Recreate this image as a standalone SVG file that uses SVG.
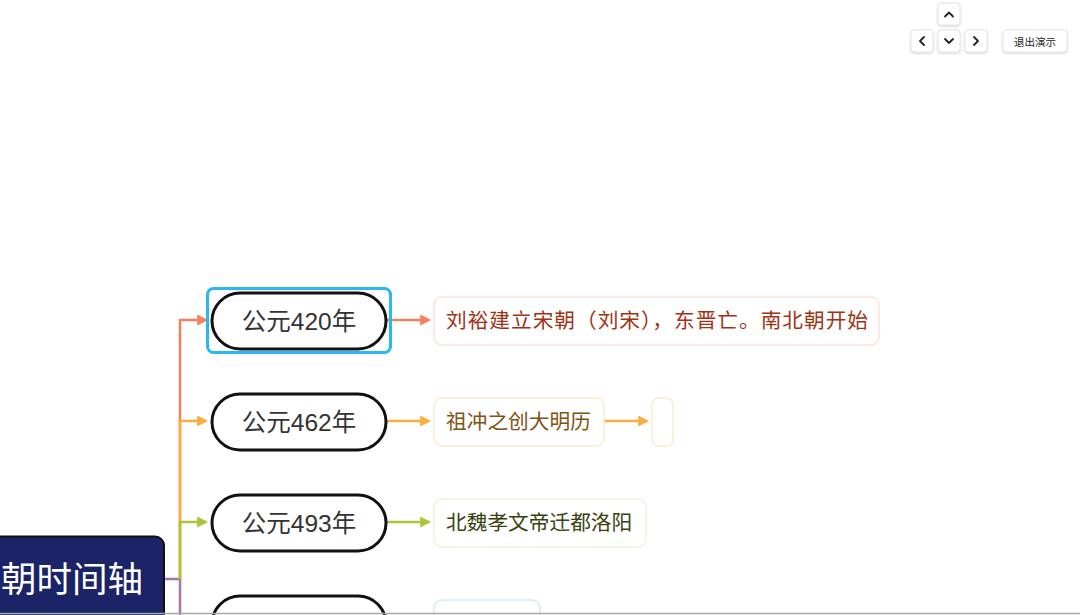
<svg xmlns="http://www.w3.org/2000/svg" width="1080" height="615" viewBox="0 0 1080 615">
<defs>
<style>
.cjk{font-family:"Noto Sans CJK SC","Noto Sans",sans-serif;}
.year{fill:#fff;stroke:#111;stroke-width:3;}
.ytxt{font-family:"Liberation Sans","Noto Sans CJK SC",sans-serif;font-size:24.5px;fill:#333;text-anchor:middle;}
.dtxt{font-size:20.7px;}
.btn{fill:#fff;stroke:#e4e4e4;stroke-width:1;}
.chev{fill:none;stroke:#222;stroke-width:1.8;stroke-linecap:round;stroke-linejoin:round;}
.conn{fill:none;stroke-width:2.5;}
</style>
<marker id="aC" viewBox="0 0 10 10" refX="8" refY="5" markerWidth="4.4" markerHeight="4.4" orient="auto"><path d="M0,0 L10,5 L0,10 z" fill="#f47f5a"/></marker>
<marker id="aO" viewBox="0 0 10 10" refX="8" refY="5" markerWidth="4.4" markerHeight="4.4" orient="auto"><path d="M0,0 L10,5 L0,10 z" fill="#fbad3d"/></marker>
<marker id="aG" viewBox="0 0 10 10" refX="8" refY="5" markerWidth="4.4" markerHeight="4.4" orient="auto"><path d="M0,0 L10,5 L0,10 z" fill="#a9c63b"/></marker>
<filter id="sh" x="-30%" y="-30%" width="160%" height="160%"><feDropShadow dx="0" dy="1" stdDeviation="1.2" flood-color="#000" flood-opacity="0.18"/></filter>
</defs>
<rect width="1080" height="615" fill="#fff"/>

<g id="connectors">
<path class="conn" stroke="#a676a9" d="M164,579 H180 V615"/>
<path class="conn" stroke="#f47f5a" d="M180,579 V320 H206" marker-end="url(#aC)"/>
<path class="conn" stroke="#fbad3d" d="M180,579 V421 H206" marker-end="url(#aO)"/>
<path class="conn" stroke="#a9c63b" d="M180,579 V522 H206" marker-end="url(#aG)"/>
<path class="conn" stroke="#f47f5a" d="M386,320 H429" marker-end="url(#aC)"/>
<path class="conn" stroke="#fbad3d" d="M386,421 H429" marker-end="url(#aO)"/>
<path class="conn" stroke="#fbad3d" d="M604,421 H647" marker-end="url(#aO)"/>
<path class="conn" stroke="#a9c63b" d="M386,522 H429" marker-end="url(#aG)"/>
</g>

<g id="root">
<rect x="-20" y="536.5" width="184" height="100" rx="9" fill="#1b2466" stroke="#111" stroke-width="2"/>
<text class="cjk" x="1" y="592" font-size="35.5px" fill="#fff">朝时间轴</text>
</g>

<g id="y420">
<rect x="207.5" y="288.5" width="183" height="64" rx="6" fill="none" stroke="#2bb8f2" stroke-width="3"/>
<rect class="year" x="212" y="293" width="174" height="56" rx="28"/>
<text class="ytxt" x="299" y="329.5">公元420年</text>
</g>
<g id="d420">
<rect x="434" y="297" width="445" height="48" rx="8" fill="#fff" stroke="#fde2d5" stroke-width="1.5"/>
<text class="cjk dtxt" x="446" y="328" fill="#9e3416" textLength="422" lengthAdjust="spacing">刘裕建立宋朝（刘宋），东晋亡。南北朝开始</text>
</g>

<g id="y462">
<rect class="year" x="212" y="394" width="174" height="56" rx="28"/>
<text class="ytxt" x="299" y="430.5">公元462年</text>
</g>
<g id="d462">
<rect x="434" y="398" width="170" height="48" rx="8" fill="#fff" stroke="#fdebd0" stroke-width="1.5"/>
<text class="cjk dtxt" x="446" y="429" fill="#7f5314">祖冲之创大明历</text>
</g>
<g id="d462b">
<rect x="652" y="398" width="21" height="48" rx="7" fill="#fff" stroke="#fdebd0" stroke-width="1.5"/>
</g>

<g id="y493">
<rect class="year" x="212" y="495" width="174" height="56" rx="28"/>
<text class="ytxt" x="299" y="531.5">公元493年</text>
</g>
<g id="d493">
<rect x="434" y="499" width="212" height="48" rx="8" fill="#fff" stroke="#eef3d6" stroke-width="1.5"/>
<text class="cjk dtxt" x="446" y="530" fill="#38420f">北魏孝文帝迁都洛阳</text>
</g>

<g id="y4">
<rect class="year" x="212" y="596" width="174" height="56" rx="28"/>
</g>
<g id="d4">
<rect x="434" y="600" width="106" height="48" rx="8" fill="#fff" stroke="#d3ebf0" stroke-width="1.5"/>
</g>

<line x1="0" y1="613.5" x2="1080" y2="613.5" stroke="#a8a8a8" stroke-width="1.5"/>

<g id="controls">
<rect class="btn" x="938" y="3" width="22" height="22" rx="3" filter="url(#sh)"/>
<path class="chev" d="M945,16.5 L949,12.5 L953,16.5"/>
<rect class="btn" x="911" y="30" width="22" height="22" rx="3" filter="url(#sh)"/>
<path class="chev" d="M924,37 L920,41 L924,45"/>
<rect class="btn" x="938" y="30" width="22" height="22" rx="3" filter="url(#sh)"/>
<path class="chev" d="M945,39 L949,43 L953,39"/>
<rect class="btn" x="965" y="30" width="22" height="22" rx="3" filter="url(#sh)"/>
<path class="chev" d="M974,37 L978,41 L974,45"/>
<rect class="btn" x="1003" y="30" width="64" height="22" rx="3" filter="url(#sh)"/>
<text class="cjk" x="1035" y="45.5" font-size="10.5px" fill="#222" text-anchor="middle">退出演示</text>
</g>
</svg>
